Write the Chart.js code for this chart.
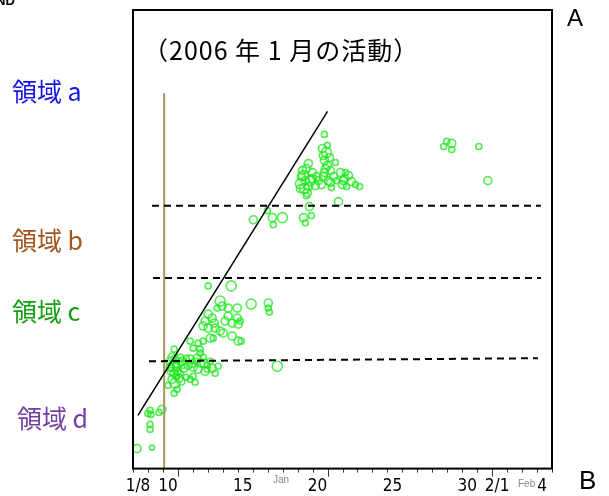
<!DOCTYPE html>
<html>
<head>
<meta charset="utf-8">
<script src="https://cdn.jsdelivr.net/npm/chart.js@4"></script>
<style>
  html, body { margin: 0; padding: 0; background: #fff; }
  #wrap { position: relative; width: 609px; height: 496px; }
</style>
</head>
<body>
<div id="wrap"><canvas id="quake-chart" width="609" height="496"></canvas></div>
<script>
/* ── data (x = day of January 2006, Feb 1 = 32; y = relative level) ── */
const tickDays   = [8, 10, 15, 20, 25, 30, 32, 35];
const tickLabels = ['1/8', '10', '15', '20', '25', '30', '2/1', '4'];
const majorTickDays = [11, 21, 32];

const eventDays = [
  8.27, 9.27, 9.14, 9.14, 9.0, 9.14, 9.2, 9.94, 9.74,
  10.48, 10.68, 10.81, 10.95, 10.61, 10.81, 11.15, 11.01, 11.28, 11.42,
  11.55, 11.68, 11.82, 12.02, 12.22, 12.35, 12.55, 12.69, 12.82, 12.96,
  13.16, 13.29, 13.49, 13.69, 10.95, 10.75, 10.34, 11.82, 12.15, 12.49,
  11.55, 11.21, 10.55, 10.88, 12.02, 12.96, 10.75,
  10.61, 10.88, 11.15, 10.75, 11.08, 11.35, 11.95, 12.29, 12.76, 10.48,
  13.02, 14.56, 13.83, 13.96, 14.36, 14.97, 15.9, 17.04, 17.04, 17.11,
  13.02, 12.82, 12.69, 13.02, 14.97, 15.03, 13.83, 14.03, 14.63, 15.03,
  13.36, 12.69, 12.35, 11.82, 12.02, 12.49, 13.16, 13.49, 14.36, 14.63,
  13.29, 13.63, 17.64, 15.17, 15.23, 13.43, 14.16,
  16.04, 16.98, 17.31, 17.98, 17.38, 19.39, 19.92, 19.79, 21.73, 19.52,
  20.79, 19.19, 19.39, 19.59, 19.45, 19.86, 19.99, 20.19, 19.72, 19.25, 20.26, 19.65,
  20.66, 20.93, 20.79, 21.13, 20.86, 21.2, 20.72, 21.06, 21.4, 20.59, 21.26, 21.53,
  21.87, 22.13, 22.4, 22.0, 22.6, 22.27, 22.87, 23.14,
  19.32, 19.52, 19.72, 19.99, 19.19, 20.39, 20.72, 20.99, 20.79, 21.2,
  21.6, 22.2, 22.07, 19.59, 20.99,
  28.96, 28.76, 29.3, 29.3, 31.11, 31.71
];
const eventLevels = [
  20, 21, 39, 44, 55, 58, 54, 59, 56,
  107, 102, 109, 97, 89, 85, 95, 105, 107, 100,
  110, 103, 109, 101, 107, 99, 105, 111, 97, 103,
  107, 100, 95, 102, 79, 119, 83, 89, 86, 115,
  91, 87, 97, 92, 92, 99, 75,
  111, 101, 110, 95, 90, 104, 105, 110, 105, 101,
  182, 182, 167, 162, 160, 160, 164, 165, 160, 156,
  154, 147, 142, 140, 150, 144, 137, 135, 132, 127,
  130, 127, 125, 127, 120, 119, 130, 140, 152, 145,
  150, 160, 102, 147, 127, 145, 147,
  248, 257, 250, 250, 243, 250, 252, 261, 266, 245,
  333, 284, 292, 299, 279, 287, 295, 282, 304, 291, 291, 275,
  319, 315, 307, 310, 299, 297, 291, 287, 291, 283, 280, 305,
  295, 289, 292, 283, 286, 281, 283, 281,
  297, 287, 281, 289, 279, 287, 312, 302, 295, 285,
  287, 295, 287, 272, 322,
  326, 321, 324, 318, 321, 287
];
const eventMagnitudes = [
  2, 1.25, 1.5, 1.5, 1.5, 1.5, 1.5, 2, 1.5,
  2, 2.5, 2, 2, 2, 2.5, 1.5, 2.5, 2, 2,
  1.5, 2, 2, 2, 1.5, 2, 2, 1.5, 2, 1.5,
  1.5, 2, 1.5, 1.5, 1.5, 1.5, 1.5, 1.5, 1.5, 1.5,
  1.5, 2, 2, 1.5, 1.5, 1.5, 1.5,
  2, 2, 2, 2, 2, 2, 2, 2, 2, 2,
  1.5, 2.5, 2.5, 2, 2, 2, 2.5, 2, 1.5, 1.5,
  2, 2, 2, 2, 2, 2, 2, 2, 2, 2,
  1.5, 1.5, 1.5, 1.5, 1.5, 1.5, 2, 2, 2, 2,
  2, 1.5, 2.5, 1.5, 1.5, 2, 2,
  2, 1.5, 2, 2.5, 1.5, 2, 1.5, 2, 2, 1.5,
  1.5, 2.5, 2.5, 2, 2.5, 2.5, 2, 2, 2, 2, 2, 2,
  2, 2.5, 2, 2, 2, 2, 2, 2, 2, 2, 1.5, 1.5,
  2, 2, 2, 2, 2, 1.5, 1.5, 1.5,
  2, 2, 2, 2, 2, 2, 2, 2, 2, 2,
  1.5, 1.5, 2, 1.5, 1.5,
  1.5, 1.5, 2, 1.5, 1.5, 2
];

// guide lines
const trendDays = [8.33, 21.0];
const trendLevels = [53, 356];
const boundaryAbDays = [9.27, 35.26], boundaryAbLevels = [262, 262];
const boundaryBcDays = [9.34, 35.26], boundaryBcLevels = [190, 190];
const boundaryCdDays = [9.07, 35.06], boundaryCdLevels = [107, 110];
const markerDays = [10.08, 10.08], markerLevels = [0, 374];

const toPts = (xs, ys) => xs.map((x, i) => ({ x, y: ys[i] }));

function guideLine(xs, ys, color, width, dash) {
  return {
    type: 'line', data: toPts(xs, ys), borderColor: color, borderWidth: width,
    borderDash: dash || [], pointRadius: 0, fill: false, tension: 0
  };
}

/* frame, tick marks and annotations */
const decorPlugin = {
  id: 'decor',
  afterDraw(chart) {
    const { ctx, chartArea: a, scales: { x } } = chart;
    ctx.save();
    // tick marks every day
    ctx.strokeStyle = '#333';
    ctx.lineWidth = 1;
    for (let d = 8; d <= 36; d++) {
      const px = Math.round(x.getPixelForValue(d)) + 0.5;
      const len = majorTickDays.includes(d) ? 8 : 4;
      ctx.beginPath(); ctx.moveTo(px, a.bottom); ctx.lineTo(px, a.bottom + len); ctx.stroke();
    }
    // frame
    ctx.strokeStyle = '#000';
    ctx.lineWidth = 2;
    ctx.strokeRect(a.left, a.top, a.right - a.left, a.bottom - a.top);

    const jp = '"Noto Sans CJK JP", sans-serif';
    ctx.textBaseline = 'middle';
    ctx.fillStyle = '#000';
    ctx.font = '25px ' + jp;
    ctx.letterSpacing = '1px';
    ctx.fillText('（2006 年 1 月の活動）', 143, 50);
    ctx.letterSpacing = '0px';

    const regions = [
      ['領域 a', '#1414ee', 91],
      ['領域 b', '#a0561c', 240],
      ['領域 c', '#12a012', 311],
      ['領域 d', '#7440a4', 418]
    ];
    ctx.font = '25px ' + jp;
    regions.forEach(([t, c, y], i) => {
      ctx.fillStyle = c;
      ctx.fillText(t, i === 3 ? 17 : 12, y);
    });

    ctx.fillStyle = '#000';
    ctx.font = '24px "Liberation Sans", Arial, sans-serif';
    ctx.fillText('A', 567, 19);
    ctx.font = '26px "Liberation Sans", Arial, sans-serif';
    ctx.fillText('B', 579, 482);
    ctx.font = 'bold 13px "Liberation Sans", Arial, sans-serif';
    ctx.fillText('ND', -4, 1);

    ctx.fillStyle = '#888';
    ctx.font = '10px "Liberation Sans", Arial, sans-serif';
    ctx.fillText('Jan', 273, 480);
    ctx.fillText('Feb', 518, 484);
    ctx.restore();
  }
};

new Chart(document.getElementById('quake-chart'), {
  type: 'scatter',
  data: {
    datasets: [
      guideLine(trendDays, trendLevels, '#000', 1.5),
      guideLine(boundaryAbDays, boundaryAbLevels, '#000', 2, [7, 5]),
      guideLine(boundaryBcDays, boundaryBcLevels, '#000', 2, [7, 5]),
      guideLine(boundaryCdDays, boundaryCdLevels, '#000', 2, [7, 5]),
      guideLine(markerDays, markerLevels, '#a8955f', 2),
      {
        data: toPts(eventDays, eventLevels),
        pointRadius: ctx => eventMagnitudes[ctx.dataIndex] * 2,
        pointBorderWidth: 1.7,
        pointBorderColor: 'rgba(25,232,25,0.72)',
        pointBackgroundColor: 'rgba(0,0,0,0)'
      }
    ]
  },
  options: {
    responsive: false,
    animation: false,
    layout: { padding: { left: 133, right: 57, top: 10, bottom: -9 } },
    plugins: { legend: { display: false }, tooltip: { enabled: false } },
    scales: {
      x: {
        type: 'linear', min: 8, max: 36,
        grid: { display: false, drawTicks: false },
        border: { display: false },
        afterBuildTicks: s => { s.ticks = tickDays.map(v => ({ value: v })); },
        ticks: {
          autoSkip: false, maxRotation: 0, padding: 8, labelOffset: 5,
          color: '#000',
          font: { family: '"Liberation Sans Narrow", "DejaVu Sans Condensed", sans-serif', size: 17, lineHeight: 1.2 },
          callback: (v, i) => tickLabels[i]
        }
      },
      y: { display: false, min: 0, max: 457 }
    }
  },
  plugins: [decorPlugin]
});
</script>
</body>
</html>
